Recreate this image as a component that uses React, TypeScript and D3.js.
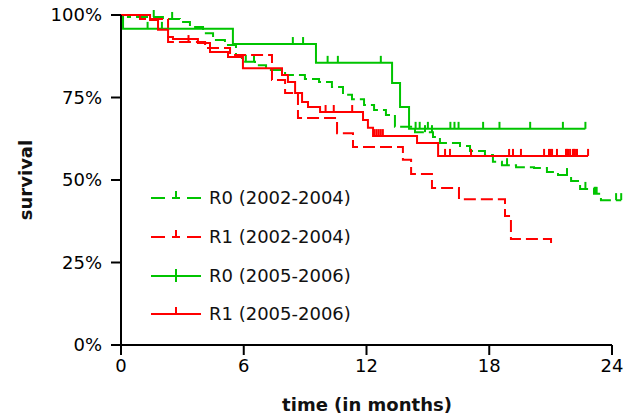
import * as d3 from 'd3'

// Kaplan-Meier steps: event times (months) and survival (%) after each step
const r0OldTimes = [0.34, 2.05, 2.88, 3.37, 4.01, 4.5, 5.08, 5.62, 5.91, 6.55, 7.09, 8.02, 8.99, 9.68, 10.31, 10.85, 11.29, 11.88, 12.37, 12.95, 13.39, 14.37, 15.25, 15.59, 16.57, 17.06, 17.79, 18.18, 18.62, 19.31, 20.19, 20.82, 21.36, 22.0, 22.44, 23.12, 23.46]
const r0OldSurv = [99.4, 98.8, 97.9, 96.4, 94.5, 92.4, 90.9, 87.9, 85.8, 84.8, 83.3, 81.8, 80.6, 79.7, 78.2, 75.8, 74.5, 72.7, 71.2, 69.7, 66.1, 64.5, 63.0, 61.2, 60.3, 58.8, 57.6, 55.5, 54.5, 53.9, 53.6, 52.4, 51.5, 49.7, 47.3, 45.8, 43.9]
const r0OldCensor = [1.6, 2.5, 6.1, 6.5, 14.86, 15.2, 18.87, 21.8, 22.7, 23.15, 23.2, 23.25, 24.2, 24.45]
const r0OldEnd = 24.45

const r1OldTimes = [0.93, 2.3, 4.11, 5.33, 7.38, 8.02, 8.65, 10.56, 11.34, 13.78, 14.18, 15.2, 16.52, 18.77, 19.06, 21.02]
const r1OldSurv = [98.8, 91.8, 90.0, 87.9, 80.3, 76.4, 68.8, 64.2, 60.0, 56.1, 51.8, 47.6, 44.2, 39.1, 32.1, 30.0]
const r1OldCensor = [3.3]
const r1OldEnd = 21.05

const r0NewTimes = [0.1, 5.47, 9.53, 13.25, 13.64, 14.08]
const r0NewSurv = [95.8, 91.2, 85.5, 79.4, 72.1, 65.5]
const r0NewCensor = [1.3, 2.0, 8.4, 8.9, 10.1, 10.6, 12.7, 14.4, 14.6, 15.0, 16.1, 16.3, 16.5, 17.7, 18.5, 20.0, 21.6, 22.7]
const r0NewEnd = 22.7

const r1NewTimes = [1.42, 1.81, 2.3, 2.54, 3.76, 4.35, 5.23, 5.96, 7.87, 8.16, 8.51, 8.85, 9.14, 9.73, 11.83, 12.07, 12.32, 14.47, 15.5]
const r1NewSurv = [98.5, 95.5, 93.3, 92.7, 91.5, 88.8, 87.3, 83.9, 81.8, 79.7, 76.4, 73.6, 72.1, 70.6, 68.2, 65.8, 63.3, 61.2, 57.3]
const r1NewCensor = [10.0, 10.4, 11.3, 12.4, 12.5, 12.6, 12.7, 12.8, 15.84, 16.08, 17.11, 18.97, 19.16, 19.55, 20.68, 20.92, 21.0, 21.07, 21.31, 21.75, 21.8, 21.85, 21.95, 22.09, 22.14, 22.19, 22.29, 22.83]
const r1NewEnd = 22.83

const xTicks = [0, 6, 12, 18, 24]
const yTicks = [0, 25, 50, 75, 100]

const GREEN = '#00c400'
const RED = '#ff0000'
const FONT = 'DejaVu Sans, Arial, sans-serif'

const series = [
  { name: 'R0 (2002-2004)', times: r0OldTimes, surv: r0OldSurv, censor: r0OldCensor, end: r0OldEnd, color: GREEN, dashed: true, cross: false },
  { name: 'R1 (2002-2004)', times: r1OldTimes, surv: r1OldSurv, censor: r1OldCensor, end: r1OldEnd, color: RED, dashed: true, cross: false },
  { name: 'R0 (2005-2006)', times: r0NewTimes, surv: r0NewSurv, censor: r0NewCensor, end: r0NewEnd, color: GREEN, dashed: false, cross: true },
  { name: 'R1 (2005-2006)', times: r1NewTimes, surv: r1NewSurv, censor: r1NewCensor, end: r1NewEnd, color: RED, dashed: false, cross: false },
]

const x = d3.scaleLinear().domain([0, 24]).range([121, 612])
const y = d3.scaleLinear().domain([0, 100]).range([345, 15])

const stepLine = d3
  .line<[number, number]>()
  .x((d) => x(d[0]))
  .y((d) => y(d[1]))
  .curve(d3.curveStepAfter)

// survival at time t for a step curve
function survAt(times: number[], surv: number[], t: number) {
  let s = 100
  for (let i = 0; i < times.length; i++) {
    if (times[i] <= t) s = surv[i]
  }
  return s
}

export default function App() {
  const legendY = [198, 237, 276, 314]

  return (
    <svg width={636} height={418} style={{ position: 'absolute', left: 0, top: 0, background: '#fff' }}>
      {/* curves */}
      {series.map((s) => {
        const pts: [number, number][] = [[0, 100]]
        s.times.forEach((t, i) => pts.push([t, s.surv[i]]))
        pts.push([s.end, s.surv[s.surv.length - 1]])
        return (
          <g key={s.name}>
            <path
              d={stepLine(pts) || ''}
              fill="none"
              stroke={s.color}
              strokeWidth={2}
              strokeDasharray={s.dashed ? '12,5' : undefined}
            />
            {s.censor.map((c, i) => {
              const yy = y(survAt(s.times, s.surv, c))
              return (
                <line key={i} x1={x(c)} x2={x(c)} y1={yy} y2={yy - 7} stroke={s.color} strokeWidth={2} />
              )
            })}
          </g>
        )
      })}

      {/* y axis */}
      <line x1={121} x2={121} y1={y(100)} y2={y(0)} stroke="#000" strokeWidth={2} />
      {yTicks.map((v) => (
        <g key={v}>
          <line x1={111} x2={121} y1={y(v)} y2={y(v)} stroke="#000" strokeWidth={2} />
          <text x={102} y={y(v)} dy="0.36em" textAnchor="end" fontFamily={FONT} fontSize={18} fill="#000">
            {v}%
          </text>
        </g>
      ))}

      {/* x axis */}
      <line x1={x(0)} x2={x(24)} y1={345} y2={345} stroke="#000" strokeWidth={2} />
      {xTicks.map((v) => (
        <g key={v}>
          <line x1={x(v)} x2={x(v)} y1={345} y2={355} stroke="#000" strokeWidth={2} />
          <text x={x(v)} y={372} textAnchor="middle" fontFamily={FONT} fontSize={18} fill="#000">
            {v}
          </text>
        </g>
      ))}

      <text x={367} y={411} textAnchor="middle" fontFamily={FONT} fontSize={18} fontWeight="bold" fill="#111">
        time (in months)
      </text>
      <text
        transform="translate(32,180) rotate(-90)"
        textAnchor="middle"
        fontFamily={FONT}
        fontSize={18}
        fontWeight="bold"
        fill="#111"
      >
        survival
      </text>

      {/* legend */}
      {series.map((s, i) => {
        const ly = legendY[i]
        return (
          <g key={'lg' + s.name}>
            <line
              x1={151}
              x2={201}
              y1={ly}
              y2={ly}
              stroke={s.color}
              strokeWidth={2}
              strokeDasharray={s.dashed ? '14,7,8,7,14' : undefined}
            />
            <line x1={176} x2={176} y1={ly} y2={ly - 7} stroke={s.color} strokeWidth={2} />
            {s.cross && <line x1={176} x2={176} y1={ly} y2={ly + 6} stroke={s.color} strokeWidth={2} />}
            <text x={209} y={ly} dy="0.36em" fontFamily={FONT} fontSize={18} fill="#111">
              {s.name}
            </text>
          </g>
        )
      })}
    </svg>
  )
}
